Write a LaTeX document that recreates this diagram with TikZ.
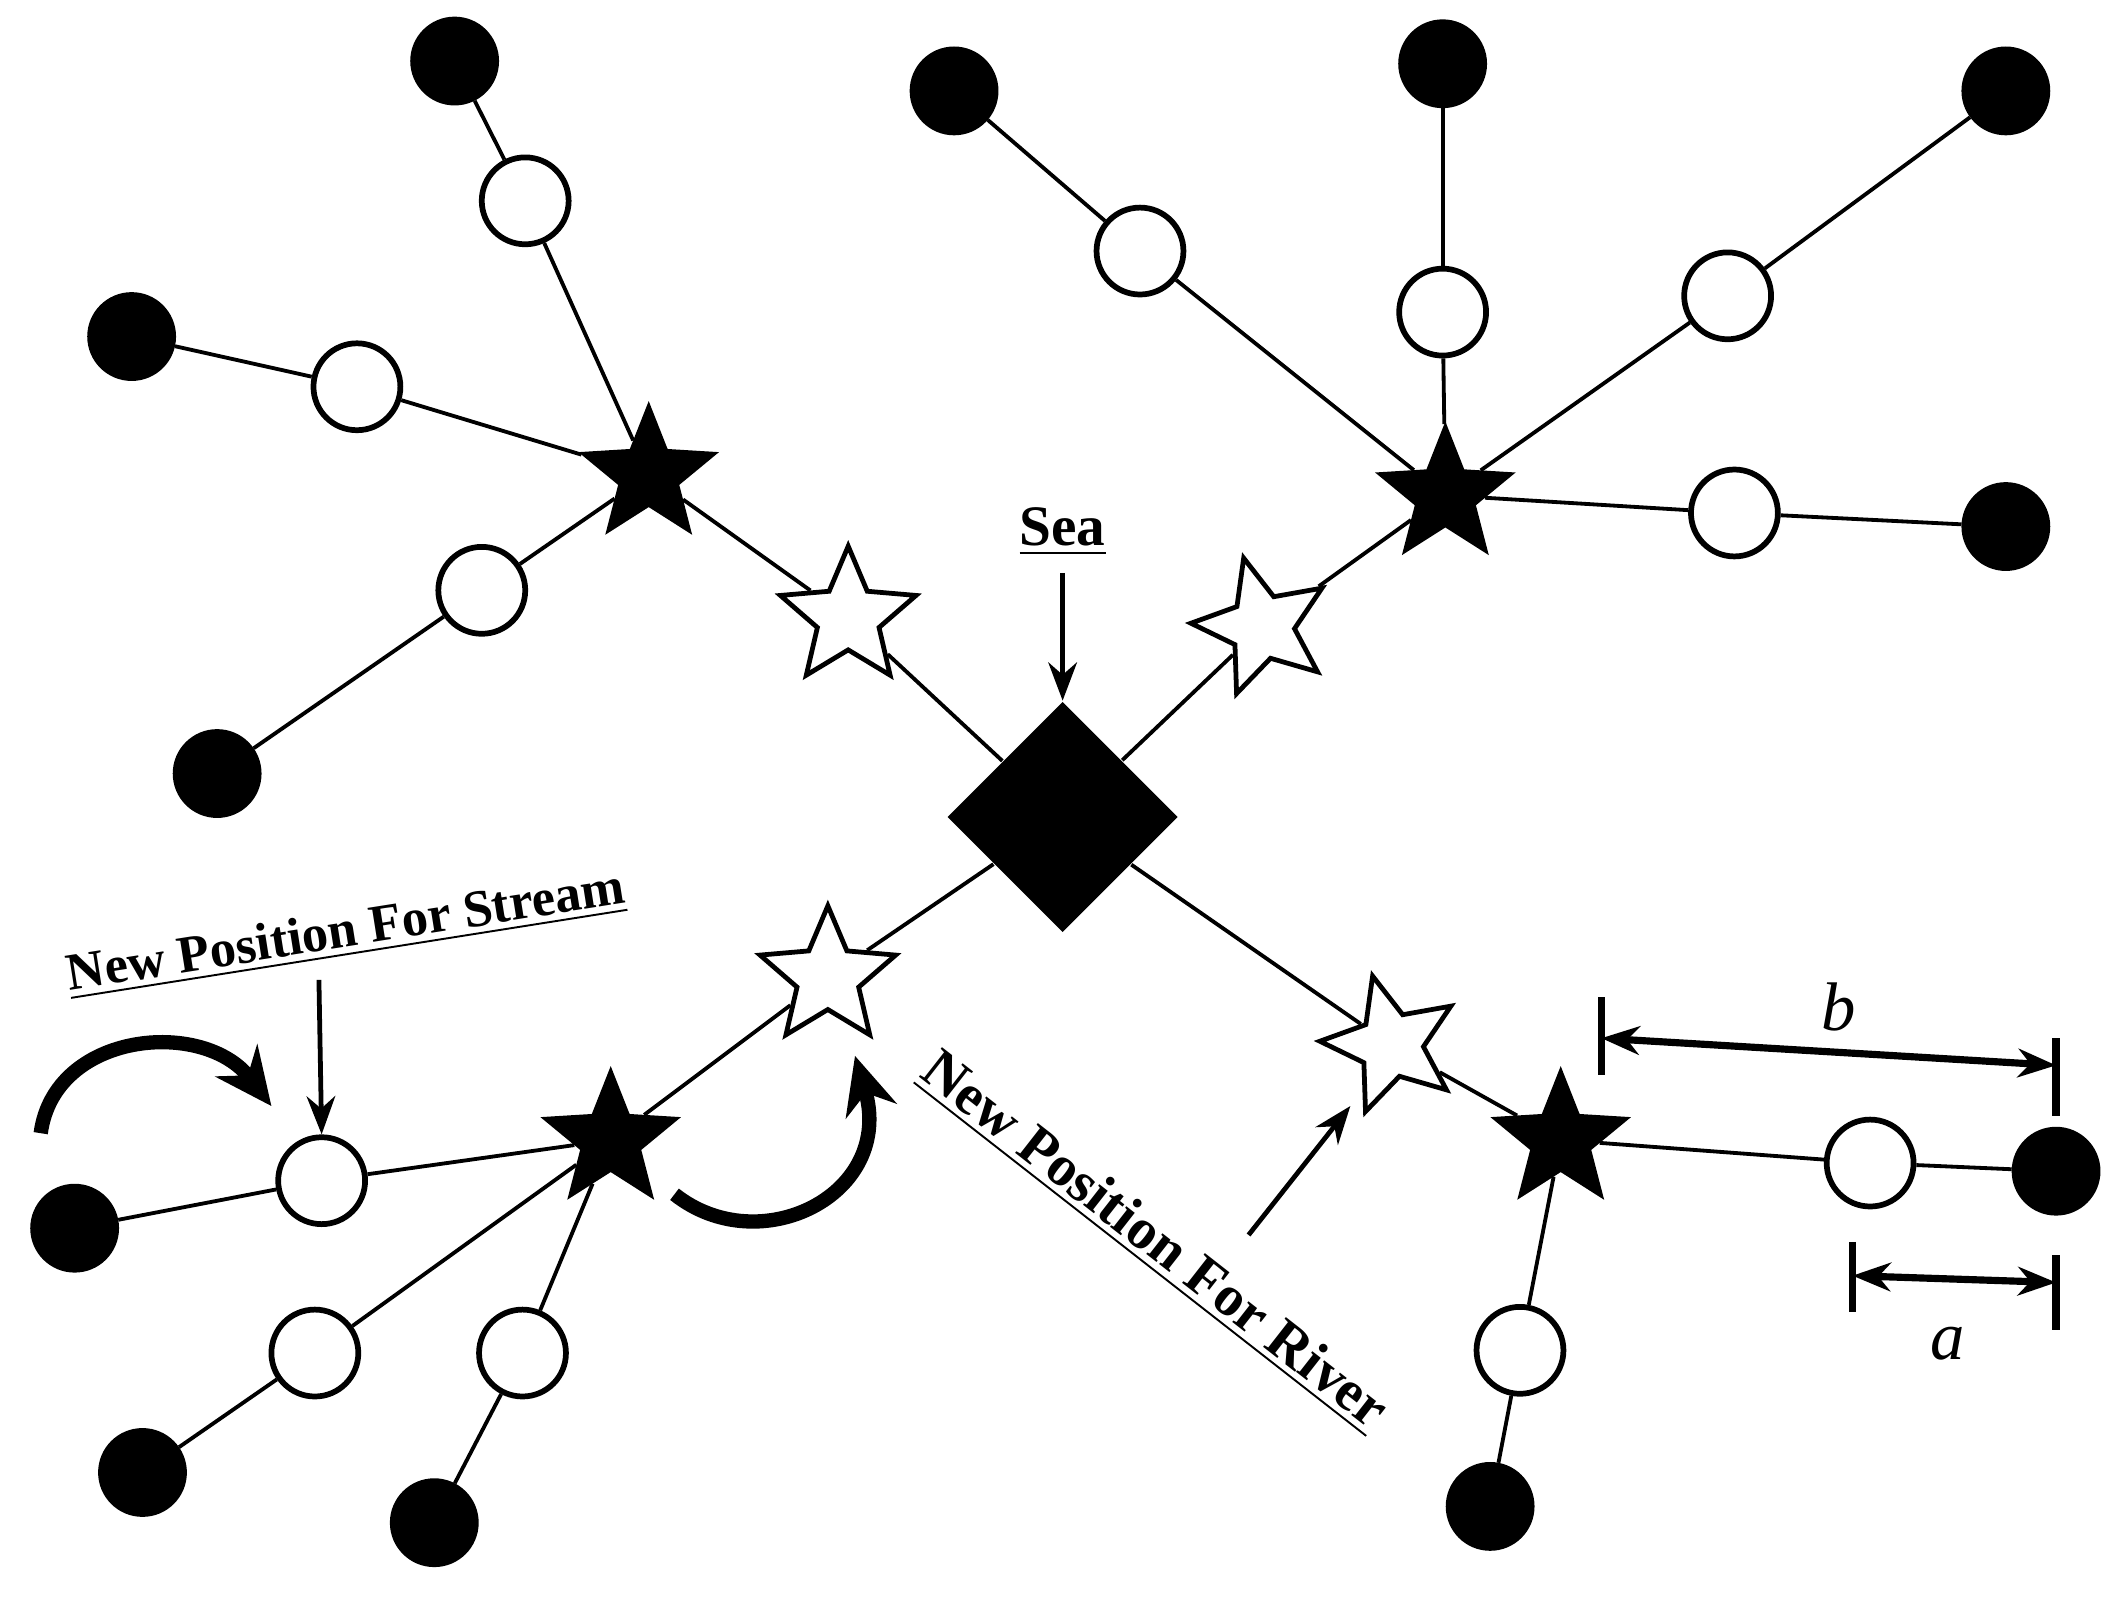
\documentclass[tikz,border=0pt]{standalone}
\usepackage{fontspec}
\setmainfont{Liberation Serif}
\usetikzlibrary{shapes.geometric,arrows.meta}
\begin{document}
\begin{tikzpicture}[x=0.01cm,y=-0.01cm,
 oc/.style={circle,draw,line width=1.2pt,fill=white,minimum size=0.64cm,inner sep=0},
 bc/.style={circle,draw,fill=black,minimum size=0.64cm,inner sep=0},
 bs/.style={star,star points=5,star point ratio=2.3,fill=black,draw,minimum size=1.05cm,inner sep=0},
 ws/.style={star,star points=5,star point ratio=2.2,fill=white,draw,line width=1pt,minimum size=1.05cm,inner sep=0},
 ln/.style={line width=0.8pt},
 ar/.style={line width=1pt,-{Stealth[length=8pt,width=6pt]}},
 cur/.style={line width=3pt,-{Stealth[length=12pt,width=11pt]}},
 lbl/.style={font=\bfseries\fontsize{11}{13}\selectfont}]
\useasboundingbox (0,0) rectangle (1568,1177);
\node[diamond,fill=black,minimum size=1.7cm,inner sep=0] (D) at (783,602) {};
\node[bs] (S1) at (478,350) {}; \node[ws] (W1) at (625,455) {};
\node[oc] (o11) at (387,148) {}; \node[bc] (b11) at (335,45) {};
\node[oc] (o12) at (263,285) {}; \node[bc] (b12) at (97,248) {};
\node[oc] (o13) at (355,435) {}; \node[bc] (b13) at (160,570) {};
\node[bs] (S2) at (1065,365) {}; \node[ws,rotate=15] (W2) at (930,462) {};
\node[oc] (o21) at (840,185) {}; \node[bc] (b21) at (703,67) {};
\node[oc] (o22) at (1063,230) {}; \node[bc] (b22) at (1063,47) {};
\node[oc] (o23) at (1273,218) {}; \node[bc] (b23) at (1478,67) {};
\node[oc] (o24) at (1278,378) {}; \node[bc] (b24) at (1478,388) {};
\node[bs] (S3) at (450,840) {}; \node[ws] (W3) at (610,720) {};
\node[oc] (o31) at (237,870) {}; \node[bc] (b31) at (55,905) {};
\node[oc] (o32) at (232,997) {}; \node[bc] (b32) at (105,1085) {};
\node[oc] (o33) at (385,997) {}; \node[bc] (b33) at (320,1122) {};
\node[bs] (S4) at (1150,840) {}; \node[ws,rotate=15] (W4) at (1025,770) {};
\node[oc] (o41) at (1378,857) {}; \node[bc] (b41) at (1515,863) {};
\node[oc] (o42) at (1120,995) {}; \node[bc] (b42) at (1098,1110) {};
\foreach \a/\b in {S1/W1,W1/D,S2/W2,W2/D,S3/W3,W3/D,S4/W4,W4/D,
 S1/o11,o11/b11,S1/o12,o12/b12,S1/o13,o13/b13,
 S2/o21,o21/b21,S2/o22,o22/b22,S2/o23,o23/b23,S2/o24,o24/b24,
 S3/o31,o31/b31,S3/o32,o32/b32,S3/o33,o33/b33,
 S4/o41,o41/b41,S4/o42,o42/b42}
 \draw[ln] (\a) -- (\b);
\node[font=\bfseries\large] (sea) at (783,392) {\underline{Sea}};
\draw[ar] (sea.south) -- (D.north);
\node[lbl,rotate=9] (ns) at (255,688) {\underline{New Position For Stream}};
\coordinate (ns1) at (235,722);
\draw[ar] (ns1) -- (o31.north);
\coordinate (c1) at (30,835); \coordinate (c2) at (200,815);
\draw[cur] (c1) .. controls (40,760) and (150,750) .. (c2);
\coordinate (c3) at (497,880); \coordinate (c4) at (630,778);
\draw[cur] (c3) .. controls (560,930) and (660,880) .. (c4);
\node[font=\bfseries\large,rotate=-38] (nr) at (850,915) {\underline{New Position For River}};
\coordinate (nr1) at (920,910);
\draw[ar] (nr1) -- (995,815);
\coordinate (bL) at (1180,765); \coordinate (bR) at (1515,785);
\draw[line width=1.5pt] (1180,735) -- (1180,792);
\draw[line width=1.5pt] (1515,765) -- (1515,822);
\draw[line width=1.5pt,{Stealth[length=8pt]}-{Stealth[length=8pt]}] (bL) -- (bR);
\node[font=\itshape\Large] (lb) at (1355,742) {b};
\coordinate (aL) at (1365,940); \coordinate (aR) at (1515,945);
\draw[line width=1.5pt] (1365,915) -- (1365,967);
\draw[line width=1.5pt] (1515,925) -- (1515,980);
\draw[line width=1.5pt,{Stealth[length=8pt]}-{Stealth[length=8pt]}] (aL) -- (aR);
\node[font=\itshape\Large] (la) at (1435,990) {a};
\end{tikzpicture}
\end{document}
